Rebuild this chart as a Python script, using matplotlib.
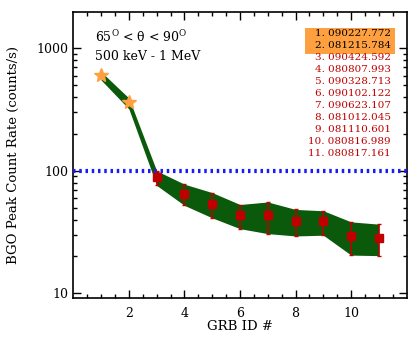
import numpy as np
import matplotlib
matplotlib.use('Agg')
import matplotlib.pyplot as plt

plt.rcParams['font.family'] = ['DejaVu Serif']
plt.rcParams['mathtext.fontset'] = 'dejavuserif'

# stars (bright GRBs) and squares (the rest)
star_x = [1, 2]
star_y = [605, 362]
sq_x = [3, 4, 5, 6, 7, 8, 9, 10, 11]
sq_y = [89, 65, 54, 44, 43.5, 38.7, 38.7, 29.1, 28.4]
sq_hi = [100, 77.8, 66.4, 53.1, 55.7, 48.4, 47.2, 38.3, 36.7]
sq_lo = [76, 52.2, 41.3, 33.7, 30.7, 29.4, 29.8, 20.5, 20.3]

# band edges
band_x = [1, 2, 3, 4, 5, 6, 7, 8, 9, 10, 11]
band_hi = [644, 393, 100, 77.8, 66.4, 53.1, 55.7, 48.4, 47.2, 38.3, 36.7]
band_lo = [551, 320, 76, 52.2, 41.3, 33.7, 30.7, 29.4, 29.8, 20.5, 20.3]

grb_names = ['090227.772', '081215.784', '090424.592', '080807.993', '090328.713',
             '090102.122', '090623.107', '081012.045', '081110.601', '080816.989',
             '080817.161']

fig = plt.figure(figsize=(4.15, 3.39), dpi=100)
ax = fig.add_axes([0.1767, 0.12, 0.8033, 0.8437])

ax.fill_between(band_x, band_lo, band_hi, color='#0b5a0b', lw=0, zorder=2)
ax.axhline(100, color='#1a1aff', ls=(0, (0.6, 0.9)), lw=3.0, zorder=3)
yerr = [np.array(sq_y) - np.array(sq_lo), np.array(sq_hi) - np.array(sq_y)]
ax.errorbar(sq_x, sq_y, yerr=yerr, fmt='s', color='#c00000', ms=6, elinewidth=1.1,
            capsize=1.5, capthick=1, zorder=4)
ax.plot(star_x, star_y, '*', color='#ffa040', ms=10, mec='#ffa040', zorder=5)

ax.set_yscale('log')
ax.set_xlim(0, 12)
ax.set_ylim(9.1, 1970)
ax.set_yticks([10, 100, 1000])
ax.set_yticklabels(['10', '100', '1000'])
ax.set_xticks([2, 4, 6, 8, 10])
ax.set_xticks(np.arange(0.5, 12, 0.5), minor=True)
ax.tick_params(which='both', direction='in', top=True, right=True, labelsize=9, width=1)
ax.tick_params(which='major', length=6)
ax.tick_params(which='minor', length=3)
ax.tick_params(axis='x', pad=6)
for s in ax.spines.values():
    s.set_linewidth(1.2)

ax.set_xlabel('GRB ID #', fontsize=9.5, labelpad=0)
ax.set_ylabel('BGO Peak Count Rate (counts/s)', fontsize=9.5, labelpad=12)

ax.text(0.065, 0.915, '65$^{\\rm O}$ < θ < 90$^{\\rm O}$', transform=ax.transAxes,
        fontsize=9, va='center')
ax.text(0.065, 0.845, '500 keV - 1 MeV', transform=ax.transAxes, fontsize=9, va='center')

# list of GRBs
ax.add_patch(plt.Rectangle((0.694, 0.853), 0.27, 0.093, transform=ax.transAxes,
                           color='#ffa040', lw=0, zorder=6))
for i, name in enumerate(grb_names):
    c = 'black' if i < 2 else '#c00000'
    ax.text(0.952, 0.9258 - i * 0.0418, f'{i + 1}. {name}', transform=ax.transAxes,
            fontsize=7.5, color=c, ha='right', va='center', zorder=7)

fig.savefig('out.png', dpi=100)
